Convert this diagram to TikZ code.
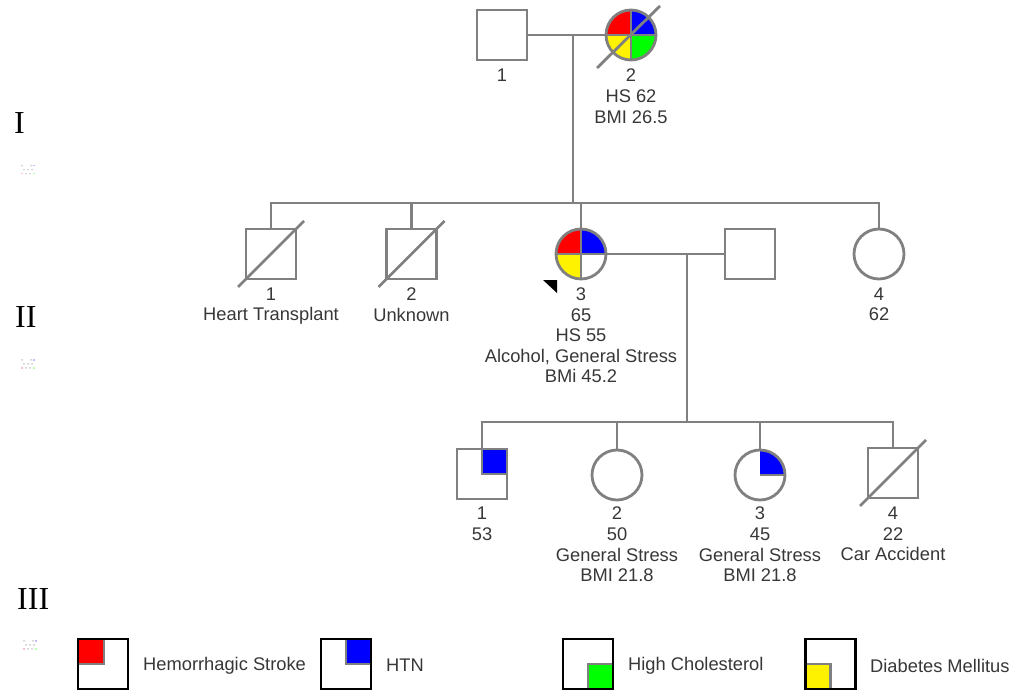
\documentclass[tikz,border=0pt]{standalone}
\usepackage{fontspec}
\setmainfont{Liberation Sans}
\newfontfamily\romanfont{Liberation Serif}
\definecolor{lg}{RGB}{128,128,128}
\definecolor{tg}{RGB}{55,55,55}
\newcommand\thumbicon[2]{%
  \begin{scope}[shift={(#1,#2)}]
    \fill[gray!30] (0,0) rectangle (2,1.5) (9,0) rectangle (11,1.5);
    \fill[blue!25] (12,0) rectangle (14,1.5);
    \fill[gray!30] (2,4) rectangle (4,5.5) (6,4) rectangle (8,5.5) (10,4) rectangle (12,5.5);
    \fill[red!25] (0,8) rectangle (2,9.5);
    \fill[gray!30] (4,8) rectangle (6,9.5) (8,8) rectangle (10,9.5);
    \fill[green!30] (12,8) rectangle (14,9.5);
  \end{scope}}
\begin{document}
\begin{tikzpicture}[x=1pt,y=-1pt,
  ln/.style={draw=lg, line width=2.8pt},
  inner/.style={draw=lg, line width=2.2pt},
  person/.style={ln, minimum size=50pt, inner sep=0pt, outer sep=0pt},
  male/.style={person, rectangle},
  female/.style={person, circle},
  lbl/.style={text=tg, font=\fontsize{18.3}{20.6}\selectfont, align=center, inner sep=0pt, anchor=north},
  leg/.style={text=tg, font=\fontsize{18.3}{20}\selectfont, anchor=west, inner sep=0pt},
  gen/.style={font=\romanfont\fontsize{32}{32}\selectfont, anchor=west, inner sep=0pt},
  legbox/.style={draw=black, line width=2.8pt, minimum size=50pt, inner sep=0pt, outer sep=0pt},
]
\useasboundingbox (0,0) rectangle (1018,690);

% generation labels
\node[gen] (g1) at (14,123) {I};
\node[gen] (g2) at (15,317) {II};
\node[gen] (g3) at (17,599) {III};
\thumbicon{21}{165}
\thumbicon{21}{359}
\thumbicon{23}{640}

% ---------- Generation I ----------
\begin{scope}
  \clip (631,35) circle (25);
  \fill[red] (631,35) rectangle ++(-25,-25);
  \fill[blue] (631,35) rectangle ++(25,-25);
  \fill[yellow] (631,35) rectangle ++(-25,25);
  \fill[green] (631,35) rectangle ++(25,25);
\end{scope}
\node[male] (i1) at (502,35) {};
\node[female] (i2) at (631,35) {};
\draw[inner] (i2.north) -- (i2.south) (i2.west) -- (i2.east);
\draw[ln] (i2.center) ++(-34,33) -- ++(63,-62);
\node[lbl] (i1l) at (502,69) {1};
\node[lbl] (i2l) at (631,69) {2\\HS 62\\BMI 26.5};

% ---------- Generation II ----------
\begin{scope}
  \clip (581,254) circle (25);
  \fill[red] (581,254) rectangle ++(-25,-25);
  \fill[blue] (581,254) rectangle ++(25,-25);
  \fill[yellow] (581,254) rectangle ++(-25,25);
\end{scope}
\node[male] (ii1) at (271,254) {};
\node[male] (ii2) at (411.5,254) {};
\node[female] (ii3) at (581,254) {};
\node[male] (ii5) at (750,254) {};
\node[female] (ii4) at (879,254) {};
\draw[inner] (ii3.north) -- (ii3.south) (ii3.west) -- (ii3.east);
\draw[ln] (ii1.center) ++(-33,33) -- ++(66,-66);
\draw[ln] (ii2.center) ++(-33,33) -- ++(66,-66);
\fill[black] (ii3.center) ++(-38,26) -- ++(14,0) -- ++(0,13) -- cycle;
\node[lbl] (ii1l) at (271,287.5) {1\\Heart Transplant};
\node[lbl] (ii2l) at (411.5,287.5) {2\\Unknown};
\node[lbl] (ii3l) at (581,287.5) {3\\65\\HS 55\\Alcohol, General Stress\\BMi 45.2};
\node[lbl] (ii4l) at (879,287.5) {4\\62};

% connectors I -> II
\coordinate (m1) at (573,35);
\coordinate (s2) at (573,203);
\draw[ln] (i1.east) -- (i2.west);
\draw[ln] (m1) -- (s2);
\draw[ln] (ii1.north) |- (ii4.north |- s2) -- (ii4.north);
\draw[ln] (ii2.north) -- (ii2.north |- s2);
\draw[ln] (ii3.north) -- (ii3.north |- s2);

% ---------- Generation III ----------
\fill[blue] (482,474) rectangle (507,449);
\begin{scope}
  \clip (760,475) circle (25);
  \fill[blue] (760,475) rectangle ++(25,-25);
\end{scope}
\node[male] (iii1) at (482,474) {};
\node[female] (iii2) at (617,475) {};
\node[female] (iii3) at (760,475) {};
\node[male] (iii4) at (893,473) {};
\draw[inner] (iii1.north) -- (iii1.center) -- (iii1.east);
\draw[inner] (iii3.center) -- (iii3.east);
\draw[ln] (iii4.center) ++(-33,33) -- ++(66,-66);
\node[lbl] (iii1l) at (482,507) {1\\53};
\node[lbl] (iii2l) at (617,507) {2\\50\\General Stress\\BMI 21.8};
\node[lbl] (iii3l) at (760,507) {3\\45\\General Stress\\BMI 21.8};
\node[lbl] (iii4l) at (893,507) {4\\22\\Car Accident};

% connectors II -> III
\coordinate (m2) at (687,254);
\coordinate (s3) at (687,422);
\draw[ln] (ii3.east) -- (ii5.west);
\draw[ln] (m2) -- (s3);
\draw[ln] (iii1.north) |- (iii4.north |- s3) -- (iii4.north);
\draw[ln] (iii2.north) -- (iii2.north |- s3);
\draw[ln] (iii3.north) -- (iii3.north |- s3);

% ---------- Legend ----------
\fill[red] (78,639) rectangle (104,664);
\draw[inner] (104,639) -- (104,664) -- (78,664);
\node[legbox] (lg1) at (103,664) {};
\node[leg] (lt1) at (143,665.5) {Hemorrhagic Stroke};

\fill[blue] (346,639) rectangle (371,664);
\draw[inner] (346,639) -- (346,664) -- (371,664);
\node[legbox] (lg2) at (346,664) {};
\node[leg] (lt2) at (386,665.5) {HTN};

\fill[green] (588,664) rectangle (613,689);
\draw[inner] (588,689) -- (588,664) -- (613,664);
\node[legbox] (lg3) at (588,664) {};
\node[leg] (lt3) at (628,665.5) {High Cholesterol};

\fill[yellow] (805.5,664) rectangle (830.5,689);
\draw[inner] (805.5,664) -- (830.5,664) -- (830.5,689);
\node[legbox] (lg4) at (830.5,664) {};
\node[leg] (lt4) at (870,665.5) {Diabetes Mellitus};
\end{tikzpicture}
\end{document}
